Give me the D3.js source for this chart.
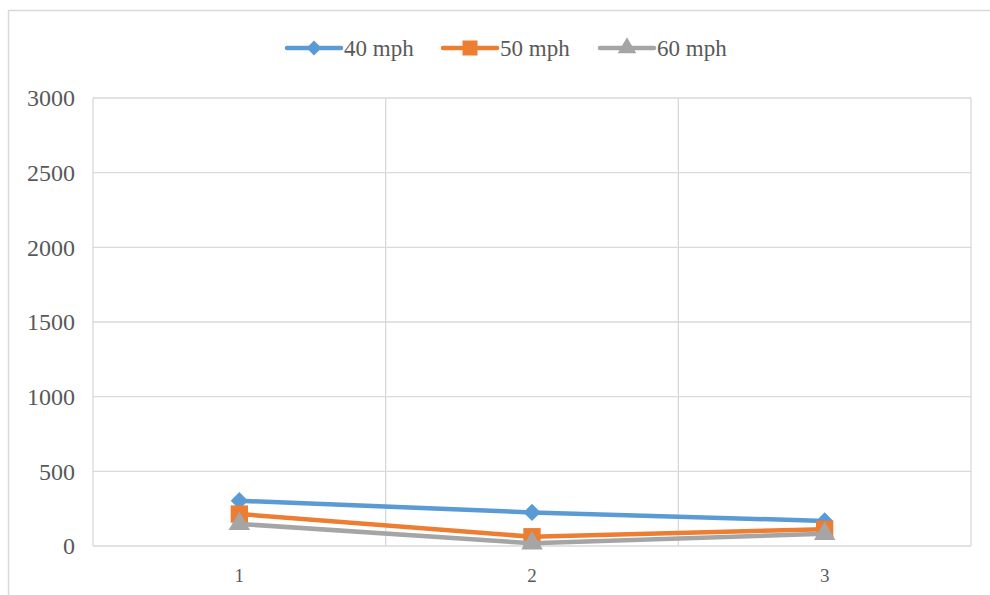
<!DOCTYPE html>
<html><head><meta charset="utf-8">
<script src="https://cdn.jsdelivr.net/npm/d3@7"></script>
<style>body{margin:0;background:#fff}svg{display:block}</style>
</head><body>
<script>
const categories = ["1", "2", "3"];
const yTicks = [0, 500, 1000, 1500, 2000, 2500, 3000];
const seriesNames = ["40 mph", "50 mph", "60 mph"];
const s40 = [303, 225, 168];
const s50 = [214, 62, 112];
const s60 = [148, 18, 82];
const colors = ["#5B9BD5", "#ED7D31", "#A5A5A5"];
const symbols = [d3.symbolDiamond2, d3.symbolSquare, d3.symbolTriangle];

const W = 990, H = 595;
const FONT = "'Liberation Serif', 'Times New Roman', serif";
const svg = d3.select("body").append("svg").attr("width", W).attr("height", H);
svg.append("rect").attr("x", 8.5).attr("y", 10.5).attr("width", 1000).attr("height", 700)
  .attr("fill", "#fff").attr("stroke", "#d9d9d9").attr("stroke-width", 1.5);

const L = 93, R = 971, T = 98, B = 546;
const x = d3.scaleBand().domain(categories).range([L, R]);
const y = d3.scaleLinear().domain([0, 3000]).range([B, T]);

const g = svg.append("g");
g.selectAll(".hg").data(yTicks).enter().append("line")
  .attr("x1", L).attr("x2", R).attr("y1", d => y(d)).attr("y2", d => y(d))
  .attr("stroke", "#d9d9d9").attr("stroke-width", 1.3);
const vx = categories.map(c => x(c)).concat([R]);
g.selectAll(".vg").data(vx).enter().append("line")
  .attr("x1", d => d).attr("x2", d => d).attr("y1", T).attr("y2", B)
  .attr("stroke", "#d9d9d9").attr("stroke-width", 1.3);

g.selectAll(".yl").data(yTicks).enter().append("text")
  .attr("x", 75).attr("y", d => y(d)).attr("dy", "0.35em").attr("text-anchor", "end")
  .style("font-family", FONT).style("font-size", "24px")
  .attr("fill", "#595959").text(d => d);
g.selectAll(".xl").data(categories).enter().append("text")
  .attr("x", d => x(d) + x.bandwidth() / 2).attr("y", 575).attr("dy", "0.35em").attr("text-anchor", "middle")
  .style("font-family", FONT).style("font-size", "19px")
  .attr("fill", "#595959").text(d => d);

const data = [s40, s50, s60];
const line = d3.line().x((d, i) => x(categories[i]) + x.bandwidth() / 2).y(d => y(d));
const symSizes = [190, 300, 200];
data.forEach((s, k) => {
  g.append("path").attr("d", line(s)).attr("fill", "none").attr("stroke", colors[k])
    .attr("stroke-width", 4.5).attr("stroke-linejoin", "round").attr("stroke-linecap", "round");
  g.selectAll(".m" + k).data(s).enter().append("path")
    .attr("transform", (d, i) => `translate(${x(categories[i]) + x.bandwidth() / 2},${y(d)})`)
    .attr("d", d3.symbol().type(symbols[k]).size(symSizes[k])).attr("fill", colors[k]);
});

const legX = [287, 443, 600];
const lg = svg.append("g");
seriesNames.forEach((n, k) => {
  const x0 = legX[k];
  lg.append("line").attr("x1", x0).attr("x2", x0 + 54).attr("y1", 48).attr("y2", 48)
    .attr("stroke", colors[k]).attr("stroke-width", 4.5).attr("stroke-linecap", "round");
  lg.append("path").attr("transform", `translate(${x0 + 27},48)`)
    .attr("d", d3.symbol().type(symbols[k]).size(symSizes[k] * 0.75)).attr("fill", colors[k]);
  lg.append("text").attr("x", x0 + 57).attr("y", 48).attr("dy", "0.35em")
    .style("font-family", FONT).style("font-size", "23px")
    .attr("fill", "#595959").text(n);
});
</script>
</body></html>
